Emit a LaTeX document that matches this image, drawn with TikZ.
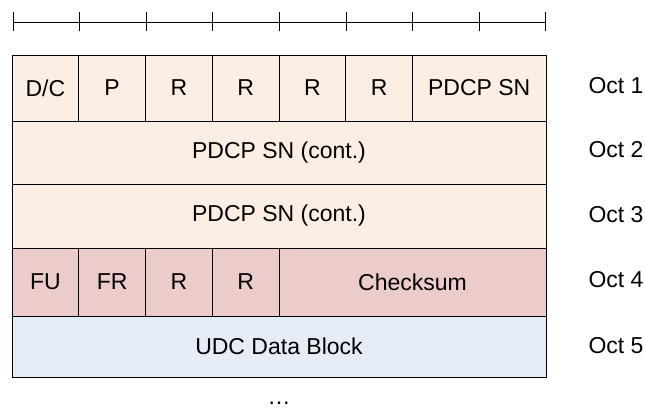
\documentclass[tikz,border=0pt]{standalone}
\usepackage{fontspec}
\setmainfont{Liberation Sans}
\usetikzlibrary{positioning,calc}
\definecolor{peachFill}{HTML}{FDEEE4}
\definecolor{roseFill}{HTML}{ECCBCB}
\definecolor{blueFill}{HTML}{E6ECF6}
\tikzset{
    field/.style={draw,line width=0.9pt,inner sep=0pt,outer sep=0pt,anchor=north west,align=center},
    octlabel/.style={inner sep=0pt}
}

\begin{document}
\begin{tikzpicture}[x=1pt,y=-1pt,font=\fontsize{23}{26}\selectfont]

    \def\bitW{66.75}
    \def\xLeft{12}
    \def\xRight{546}
    \def\xOct{616}
    \def\yRuler{22}
    \def\yOne{55}
    \def\yTwo{121}
    \def\yThree{184}
    \def\yFour{248}
    \def\yFive{316}
    \def\yEnd{377}

    \useasboundingbox (0,0) rectangle (645,410);

    % bit ruler
    \coordinate (rulerL) at (\xLeft+1,\yRuler);
    \coordinate (rulerR) at (\xRight,\yRuler);
    \draw[line width=0.8pt] (rulerL) -- (rulerR);
    \foreach \i in {0,...,8}
        \draw[line width=0.8pt] ($(rulerL)+(\i*66.6,-10)$) -- ++(0,19);

    % Oct 1
    \node[field,fill=peachFill,minimum width=\bitW pt,minimum height=66pt] at (\xLeft,\yOne) (dc) {D/C};
    \node[field,fill=peachFill,minimum width=\bitW pt,minimum height=66pt] at (dc.north east) (p) {P};
    \node[field,fill=peachFill,minimum width=\bitW pt,minimum height=66pt] at (p.north east) (rA) {R};
    \node[field,fill=peachFill,minimum width=\bitW pt,minimum height=66pt] at (rA.north east) (rB) {R};
    \node[field,fill=peachFill,minimum width=\bitW pt,minimum height=66pt] at (rB.north east) (rC) {R};
    \node[field,fill=peachFill,minimum width=\bitW pt,minimum height=66pt] at (rC.north east) (rD) {R};
    \node[field,fill=peachFill,minimum width=2*\bitW pt,minimum height=66pt] at (rD.north east) (sn) {PDCP SN};

    % Oct 2 and 3
    \node[field,fill=peachFill,minimum width=534pt,minimum height=63pt] at (\xLeft,\yTwo) (snTwo) {PDCP SN (cont.)};
    \node[field,fill=peachFill,minimum width=534pt,minimum height=64pt] at (\xLeft,\yThree) (snThree) {PDCP SN (cont.)};

    % Oct 4
    \node[field,fill=roseFill,minimum width=\bitW pt,minimum height=68pt] at (\xLeft,\yFour) (fu) {FU};
    \node[field,fill=roseFill,minimum width=\bitW pt,minimum height=68pt] at (fu.north east) (fr) {FR};
    \node[field,fill=roseFill,minimum width=\bitW pt,minimum height=68pt] at (fr.north east) (rE) {R};
    \node[field,fill=roseFill,minimum width=\bitW pt,minimum height=68pt] at (rE.north east) (rF) {R};
    \node[field,fill=roseFill,minimum width=4*\bitW pt,minimum height=68pt] at (rF.north east) (checksum) {Checksum};

    % Oct 5
    \node[field,fill=blueFill,minimum width=534pt,minimum height=61pt] at (\xLeft,\yFive) (udc) {UDC Data Block};

    % octet labels
    \node[octlabel] at (\xOct,86) (octOne) {Oct 1};
    \node[octlabel] at (\xOct,150) (octTwo) {Oct 2};
    \node[octlabel] at (\xOct,215) (octThree) {Oct 3};
    \node[octlabel] at (\xOct,280) (octFour) {Oct 4};
    \node[octlabel] at (\xOct,346) (octFive) {Oct 5};

    \node[octlabel,anchor=base] at (279,404) (dots) {\dots};

\end{tikzpicture}
\end{document}
